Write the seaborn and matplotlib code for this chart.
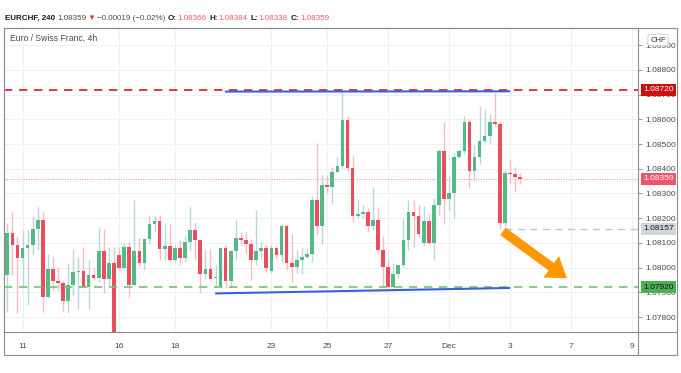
import numpy as np
import pandas as pd
import matplotlib.pyplot as plt
import seaborn as sns
import matplotlib.transforms as mtransforms
from matplotlib.patches import Rectangle
from matplotlib.lines import Line2D

sns.set_theme(style="white")
plt.rcParams['font.family'] = ['Liberation Sans', 'DejaVu Sans']

# EURCHF 4h candles
opens = [1.07972, 1.08142, 1.08093, 1.08039, 1.08078, 1.08093, 1.08156, 1.08191, 1.07882, 1.07996,
         1.07946, 1.07940, 1.07866, 1.07932, 1.07982, 1.07987, 1.07922, 1.07971, 1.07957, 1.08069,
         1.07953, 1.08017, 1.08051, 1.08000, 1.08084, 1.07929, 1.08067, 1.08019, 1.08117, 1.08176,
         1.08190, 1.08077, 1.08086, 1.08030, 1.08080, 1.08041, 1.08104, 1.08154, 1.08113, 1.07973,
         1.07994, 1.07959, 1.07920, 1.08080, 1.07945, 1.08066, 1.08120, 1.08113, 1.08094, 1.08030,
         1.08066, 1.08081, 1.07987, 1.08081, 1.08050, 1.08168, 1.08017, 1.08003, 1.08030, 1.08043,
         1.08057, 1.08275, 1.08168, 1.08336, 1.08325, 1.08386, 1.08410, 1.08598, 1.08402, 1.08209,
         1.08218, 1.08227, 1.08168, 1.08191, 1.08070, 1.08003, 1.07920, 1.07976, 1.08010, 1.08111,
         1.08227, 1.08207, 1.08101, 1.08187, 1.08101, 1.08252, 1.08471, 1.08276, 1.08303, 1.08449,
         1.08471, 1.08590, 1.08390, 1.08449, 1.08514, 1.08534, 1.08590, 1.08581, 1.08182, 1.08383,
         1.08377, 1.08366]
closes = [1.08142, 1.08093, 1.08039, 1.08078, 1.08093, 1.08156, 1.08191, 1.07882, 1.07996, 1.07946,
          1.07940, 1.07866, 1.07932, 1.07982, 1.07987, 1.07922, 1.07971, 1.07957, 1.08069, 1.07953,
          1.08017, 1.07735, 1.08000, 1.08084, 1.07929, 1.08067, 1.08019, 1.08117, 1.08176, 1.08190,
          1.08077, 1.08086, 1.08030, 1.08080, 1.08041, 1.08104, 1.08154, 1.08113, 1.07973, 1.07994,
          1.07956, 1.07963, 1.08080, 1.07945, 1.08066, 1.08120, 1.08113, 1.08094, 1.08030, 1.08066,
          1.08080, 1.08000, 1.08081, 1.08050, 1.08168, 1.08017, 1.08003, 1.08030, 1.08043, 1.08057,
          1.08275, 1.08168, 1.08336, 1.08325, 1.08386, 1.08410, 1.08598, 1.08402, 1.08209, 1.08218,
          1.08227, 1.08168, 1.08191, 1.08070, 1.08003, 1.07920, 1.07976, 1.08010, 1.08111, 1.08227,
          1.08207, 1.08138, 1.08187, 1.08101, 1.08252, 1.08471, 1.08276, 1.08303, 1.08449, 1.08471,
          1.08590, 1.08390, 1.08449, 1.08514, 1.08534, 1.08590, 1.08581, 1.08182, 1.08383, 1.08377,
          1.08366, 1.08359]
highs = [1.08179, 1.08225, 1.08124, 1.08151, 1.08151, 1.08207, 1.08248, 1.08227, 1.08057, 1.08043,
         1.08002, 1.07945, 1.08017, 1.08077, 1.08043, 1.08084, 1.08033, 1.08002, 1.08164, 1.08158,
         1.08084, 1.08084, 1.08084, 1.08100, 1.08104, 1.08275, 1.08121, 1.08119, 1.08214, 1.08207,
         1.08211, 1.08178, 1.08178, 1.08090, 1.08111, 1.08131, 1.08248, 1.08184, 1.08115, 1.08077,
         1.08077, 1.08010, 1.08082, 1.08090, 1.08070, 1.08191, 1.08144, 1.08147, 1.08117, 1.08232,
         1.08104, 1.08090, 1.08090, 1.08088, 1.08175, 1.08171, 1.08135, 1.08070, 1.08082, 1.08078,
         1.08288, 1.08503, 1.08373, 1.08373, 1.08409, 1.08449, 1.08715, 1.08615, 1.08453, 1.08279,
         1.08252, 1.08240, 1.08325, 1.08244, 1.08127, 1.08030, 1.08018, 1.08012, 1.08198, 1.08272,
         1.08272, 1.08252, 1.08248, 1.08219, 1.08280, 1.08481, 1.08588, 1.08369, 1.08465, 1.08481,
         1.08615, 1.08602, 1.08494, 1.08655, 1.08642, 1.08623, 1.08708, 1.08594, 1.08393, 1.08436,
         1.08409, 1.08384]
lows = [1.07821, 1.07969, 1.07817, 1.07916, 1.07848, 1.08050, 1.08070, 1.07821, 1.07878, 1.07909,
        1.07909, 1.07825, 1.07815, 1.07889, 1.07835, 1.07918, 1.07831, 1.07949, 1.07942, 1.07896,
        1.07925, 1.07720, 1.07990, 1.07997, 1.07882, 1.07925, 1.08006, 1.07992, 1.08097, 1.08144,
        1.08030, 1.08030, 1.08022, 1.08022, 1.08010, 1.08022, 1.08070, 1.08037, 1.07896, 1.07956,
        1.07953, 1.07922, 1.07917, 1.07916, 1.07920, 1.08037, 1.08090, 1.08057, 1.07949, 1.08010,
        1.08037, 1.07983, 1.07978, 1.08040, 1.08023, 1.07990, 1.07942, 1.07978, 1.07976, 1.08038,
        1.08022, 1.08131, 1.08097, 1.08300, 1.08259, 1.08385, 1.08401, 1.08389, 1.08184, 1.08199,
        1.08199, 1.08143, 1.08151, 1.08058, 1.07922, 1.07917, 1.07917, 1.07957, 1.08002, 1.08070,
        1.08084, 1.08124, 1.08086, 1.08094, 1.08030, 1.08211, 1.08178, 1.08232, 1.08199, 1.08445,
        1.08460, 1.08323, 1.08352, 1.08421, 1.08506, 1.08503, 1.08574, 1.08157, 1.08170, 1.08344,
        1.08312, 1.08338]

# x axis: candle index of each date label
tick_pos = [3, 22, 33, 52, 63, 75, 87, 99, 111, 123]
tick_labels = ['11', '16', '18', '23', '25', '27', 'Dec', '3', '7', '9']
price_ticks = [1.078, 1.079, 1.080, 1.081, 1.082, 1.083, 1.084, 1.085, 1.086, 1.087, 1.088, 1.089]

# horizontal levels
resistance = 1.08720
support = 1.07920
last_price = 1.08359
recent_low = 1.08157

# hand-drawn trend lines (candle index, price)
top_line_x, top_line_y = [43.0, 98.9], [1.08712, 1.08713]
bot_line_x, bot_line_y = [41.1, 98.9], [1.07896, 1.07918]
arrow_from, arrow_to = (97.6, 1.08147), (110.2, 1.07957)

GREEN, RED = '#53b987', '#eb4d5c'
GREEN_WICK, RED_WICK = '#bcd5db', '#f7bcc3'

df = pd.DataFrame({'open': opens, 'high': highs, 'low': lows, 'close': closes})
df['x'] = np.arange(len(df))
df['up'] = df['close'] >= df['open']

W, H = 681, 373
fig = plt.figure(figsize=(W / 100, H / 100), dpi=100)
ax = fig.add_axes([4 / W, 1 - 332 / H, 634 / W, 304 / H])

# candles
wick_cols = np.where(df['up'], GREEN_WICK, RED_WICK)
ax.vlines(df['x'], df['low'], df['high'], colors=wick_cols, lw=1, zorder=2)
body_bottom = df[['open', 'close']].min(axis=1)
body_h = (df['close'] - df['open']).abs().clip(lower=0.00003)
ax.bar(df['x'], body_h, bottom=body_bottom, width=0.72,
       color=np.where(df['up'], GREEN, RED), linewidth=0, zorder=3)

# levels
ax.axhline(resistance, color='#e0141e', lw=1.2, ls=(0, (5, 4)), zorder=4)
ax.axhline(support, color='#72c474', lw=1.2, ls=(0, (5, 4)), zorder=4)
ax.axhline(last_price, color='#f48a92', lw=0.7, ls=(0, (1, 1.5)), zorder=1)
ax.plot([98, 130], [recent_low, recent_low], color='#c3c6cf', lw=1, ls=(0, (5, 4)), zorder=1)
ax.plot(top_line_x, top_line_y, color='#3564d4', lw=1.5, zorder=5)
ax.plot(bot_line_x, bot_line_y, color='#3564d4', lw=1.5, zorder=5)
ax.annotate('', xy=arrow_to, xytext=arrow_from,
            arrowprops=dict(arrowstyle='simple,head_length=0.7,head_width=0.95,tail_width=0.33',
                            fc='#ff9800', ec='none', mutation_scale=20, shrinkA=0, shrinkB=0),
            zorder=6)

ax.set_xlim(-0.65, 124.2)
ax.set_ylim(1.07740, 1.08969)
ax.set_xticks(tick_pos)
ax.set_xticklabels(tick_labels)
ax.set_yticks(price_ticks)
ax.set_yticklabels([f'{p:.5f}' for p in price_ticks])
ax.yaxis.tick_right()
ax.tick_params(axis='y', length=3, width=0.6, color='#888888', pad=2, labelsize=6, labelcolor='#4a4a4a')
ax.tick_params(axis='x', length=3, width=0.6, color='#888888', pad=5, labelsize=6, labelcolor='#4a4a4a')
ax.grid(True, color='#edf0f5', lw=0.8)
ax.set_axisbelow(True)
for s in ax.spines.values():
    s.set_color('#8c8c8c')
    s.set_linewidth(0.8)

# price tags on the right axis
tag_tr = mtransforms.blended_transform_factory(ax.transAxes, ax.transData)
tags = [(resistance, '#cc1010', 'white'), (last_price, '#f0566a', 'white'),
        (recent_low, '#d1d4dc', '#131722'), (support, '#4caf50', '#131722')]
for val, bg, fg in tags:
    ax.text(1.0325, val, f'{val:.5f}', transform=tag_tr, ha='center', va='center',
            fontsize=6, color=fg, clip_on=False, zorder=10,
            bbox=dict(boxstyle='square,pad=0.3', fc=bg, ec='none'))
fig.text(658 / W, 1 - 40 / H, 'CHF', ha='center', va='center', fontsize=5.5, color='#333333',
         bbox=dict(boxstyle='round,pad=0.3', fc='white', ec='#cccccc', lw=0.6))

# outer frame of the widget
fig.add_artist(Rectangle((4 / W, 1 - 355 / H), 673 / W, 327 / H, transform=fig.transFigure,
                         fill=False, ec='#8c8c8c', lw=0.8))
fig.add_artist(Line2D([638 / W, 638 / W], [1 - 355 / H, 1 - 332 / H], transform=fig.transFigure,
                      color='#8c8c8c', lw=0.8))
fig.add_artist(Line2D([638 / W, 677 / W], [1 - 332 / H, 1 - 332 / H], transform=fig.transFigure,
                      color='#8c8c8c', lw=0.8))

# header line with coloured pieces
pieces = [('EURCHF, 240', '#131722', 'bold'), ('1.08359', '#4a4a4a', 'normal'),
          ('\u25bc', '#e53935', 'normal'), ('\u22120.00019 (\u22120.02%)', '#4a4a4a', 'normal'),
          ('O:', '#131722', 'bold'), ('1.08366', '#f05a6a', 'normal'),
          ('H:', '#131722', 'bold'), ('1.08384', '#f05a6a', 'normal'),
          ('L:', '#131722', 'bold'), ('1.08338', '#f05a6a', 'normal'),
          ('C:', '#131722', 'bold'), ('1.08359', '#f05a6a', 'normal')]
hdr_size = 5.8
prev = fig.text(5 / W, 1 - 18 / H, pieces[0][0], color=pieces[0][1], fontweight=pieces[0][2],
                fontsize=hdr_size, va='center', ha='left')
for i, (txt, col, wt) in enumerate(pieces[1:], start=1):
    gap = 0.6 if pieces[i - 1][0].endswith(':') or txt == '\u25bc' or pieces[i - 1][0] == '\u25bc' else 2
    prev = ax.annotate(txt, xy=(1, 0.5), xycoords=prev, xytext=(gap, 0), textcoords='offset points',
                       va='center', ha='left', color=col, fontweight=wt, fontsize=hdr_size,
                       annotation_clip=False)

fig.text(10 / W, 1 - 38 / H, 'Euro / Swiss Franc, 4h', fontsize=6.2, color='#4a4a4a',
         va='center', ha='left')

fig.savefig('out.png', dpi=100)
